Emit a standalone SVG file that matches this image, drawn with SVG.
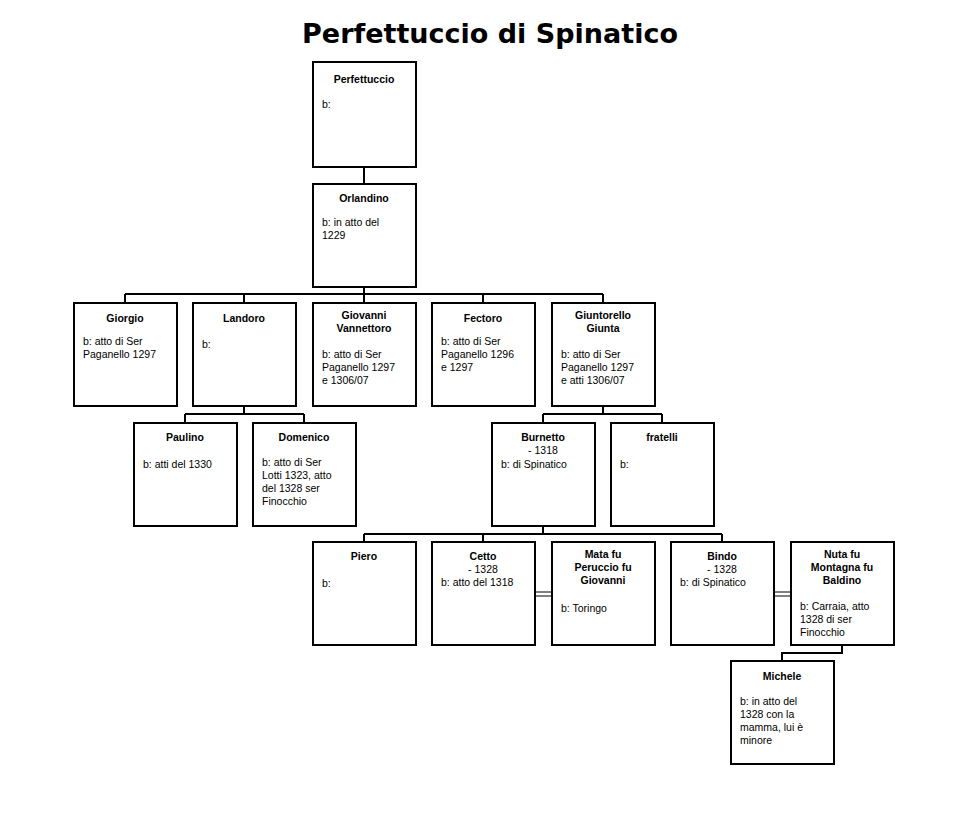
<svg xmlns="http://www.w3.org/2000/svg" width="980" height="834" viewBox="0 0 980 834">
<style>
rect{fill:#fff;stroke:#000;stroke-width:2}
.c{fill:none;stroke:#000;stroke-width:2}
.m{fill:none;stroke:#000;stroke-width:1.2}
text{font-family:"Liberation Sans",Arial,sans-serif;font-size:10.5px;fill:#000}
.n{font-weight:bold;text-anchor:middle}
.t{font-family:"DejaVu Sans",sans-serif;font-weight:bold;font-size:27px;text-anchor:middle}
</style>
<rect x="0" y="0" width="980" height="834" style="stroke:none"/>
<text class="t" x="490" y="43">Perfettuccio di Spinatico</text>
<g id="connectors">
<path class="c" d="M364 167V184M364 287V294M125 294H603M125 294V303M244 294V303M364 294V303M483 294V303M603 294V303"/>
<path class="c" d="M244 406V414M185 414H304M185 414V423M304 414V423"/>
<path class="c" d="M603 406V414M543 414H662M543 414V423M662 414V423"/>
<path class="c" d="M543 526V534M364 534H722M364 534V542M483 534V542M722 534V542"/>
<path class="m" d="M535 592H552M535 596H552M774 592H791M774 596H791"/>
<path class="c" d="M842 645V653H782V661"/>
</g>
<g id="perfettuccio"><rect x="313" y="62" width="103" height="105"/><text class="n" x="364" y="83">Perfettuccio</text><text x="322" y="108">b:</text></g>
<g id="orlandino"><rect x="313" y="184" width="103" height="103"/><text class="n" x="364" y="202">Orlandino</text><text x="322" y="226">b: in atto del</text><text x="322" y="239">1229</text></g>
<g id="giorgio"><rect x="74" y="303" width="103" height="103"/><text class="n" x="125" y="322">Giorgio</text><text x="83" y="345">b: atto di Ser</text><text x="83" y="358">Paganello 1297</text></g>
<g id="landoro"><rect x="193" y="303" width="103" height="103"/><text class="n" x="244" y="322">Landoro</text><text x="202" y="348">b:</text></g>
<g id="giovanni"><rect x="313" y="303" width="103" height="103"/><text class="n" x="364" y="319">Giovanni</text><text class="n" x="364" y="332">Vannettoro</text><text x="322" y="358">b: atto di Ser</text><text x="322" y="371">Paganello 1297</text><text x="322" y="384">e 1306/07</text></g>
<g id="fectoro"><rect x="432" y="303" width="103" height="103"/><text class="n" x="483" y="322">Fectoro</text><text x="441" y="345">b: atto di Ser</text><text x="441" y="358">Paganello 1296</text><text x="441" y="371">e 1297</text></g>
<g id="giuntorello"><rect x="552" y="303" width="103" height="103"/><text class="n" x="603" y="319">Giuntorello</text><text class="n" x="603" y="332">Giunta</text><text x="561" y="358">b: atto di Ser</text><text x="561" y="371">Paganello 1297</text><text x="561" y="384">e atti 1306/07</text></g>
<g id="paulino"><rect x="134" y="423" width="103" height="103"/><text class="n" x="185" y="441">Paulino</text><text x="143" y="468">b: atti del 1330</text></g>
<g id="domenico"><rect x="253" y="423" width="103" height="103"/><text class="n" x="304" y="441">Domenico</text><text x="262" y="466">b: atto di Ser</text><text x="262" y="479">Lotti 1323, atto</text><text x="262" y="492">del 1328 ser</text><text x="262" y="505">Finocchio</text></g>
<g id="burnetto"><rect x="492" y="423" width="103" height="103"/><text class="n" x="543" y="441">Burnetto</text><text x="543" y="454" text-anchor="middle">- 1318</text><text x="501" y="468">b: di Spinatico</text></g>
<g id="fratelli"><rect x="611" y="423" width="103" height="103"/><text class="n" x="662" y="441">fratelli</text><text x="620" y="468">b:</text></g>
<g id="piero"><rect x="313" y="542" width="103" height="103"/><text class="n" x="364" y="560">Piero</text><text x="322" y="587">b:</text></g>
<g id="cetto"><rect x="432" y="542" width="103" height="103"/><text class="n" x="483" y="560">Cetto</text><text x="483" y="573" text-anchor="middle">- 1328</text><text x="441" y="586">b: atto del 1318</text></g>
<g id="mata"><rect x="552" y="542" width="103" height="103"/><text class="n" x="603" y="558">Mata fu</text><text class="n" x="603" y="571">Peruccio fu</text><text class="n" x="603" y="584">Giovanni</text><text x="561" y="612">b: Toringo</text></g>
<g id="bindo"><rect x="671" y="542" width="103" height="103"/><text class="n" x="722" y="560">Bindo</text><text x="722" y="573" text-anchor="middle">- 1328</text><text x="680" y="586">b: di Spinatico</text></g>
<g id="nuta"><rect x="791" y="542" width="103" height="103"/><text class="n" x="842" y="558">Nuta fu</text><text class="n" x="842" y="571">Montagna fu</text><text class="n" x="842" y="584">Baldino</text><text x="800" y="610">b: Carraia, atto</text><text x="800" y="623">1328 di ser</text><text x="800" y="636">Finocchio</text></g>
<g id="michele"><rect x="731" y="661" width="103" height="103"/><text class="n" x="782" y="680">Michele</text><text x="740" y="705">b: in atto del</text><text x="740" y="718">1328 con la</text><text x="740" y="731">mamma, lui è</text><text x="740" y="744">minore</text></g>
</svg>
